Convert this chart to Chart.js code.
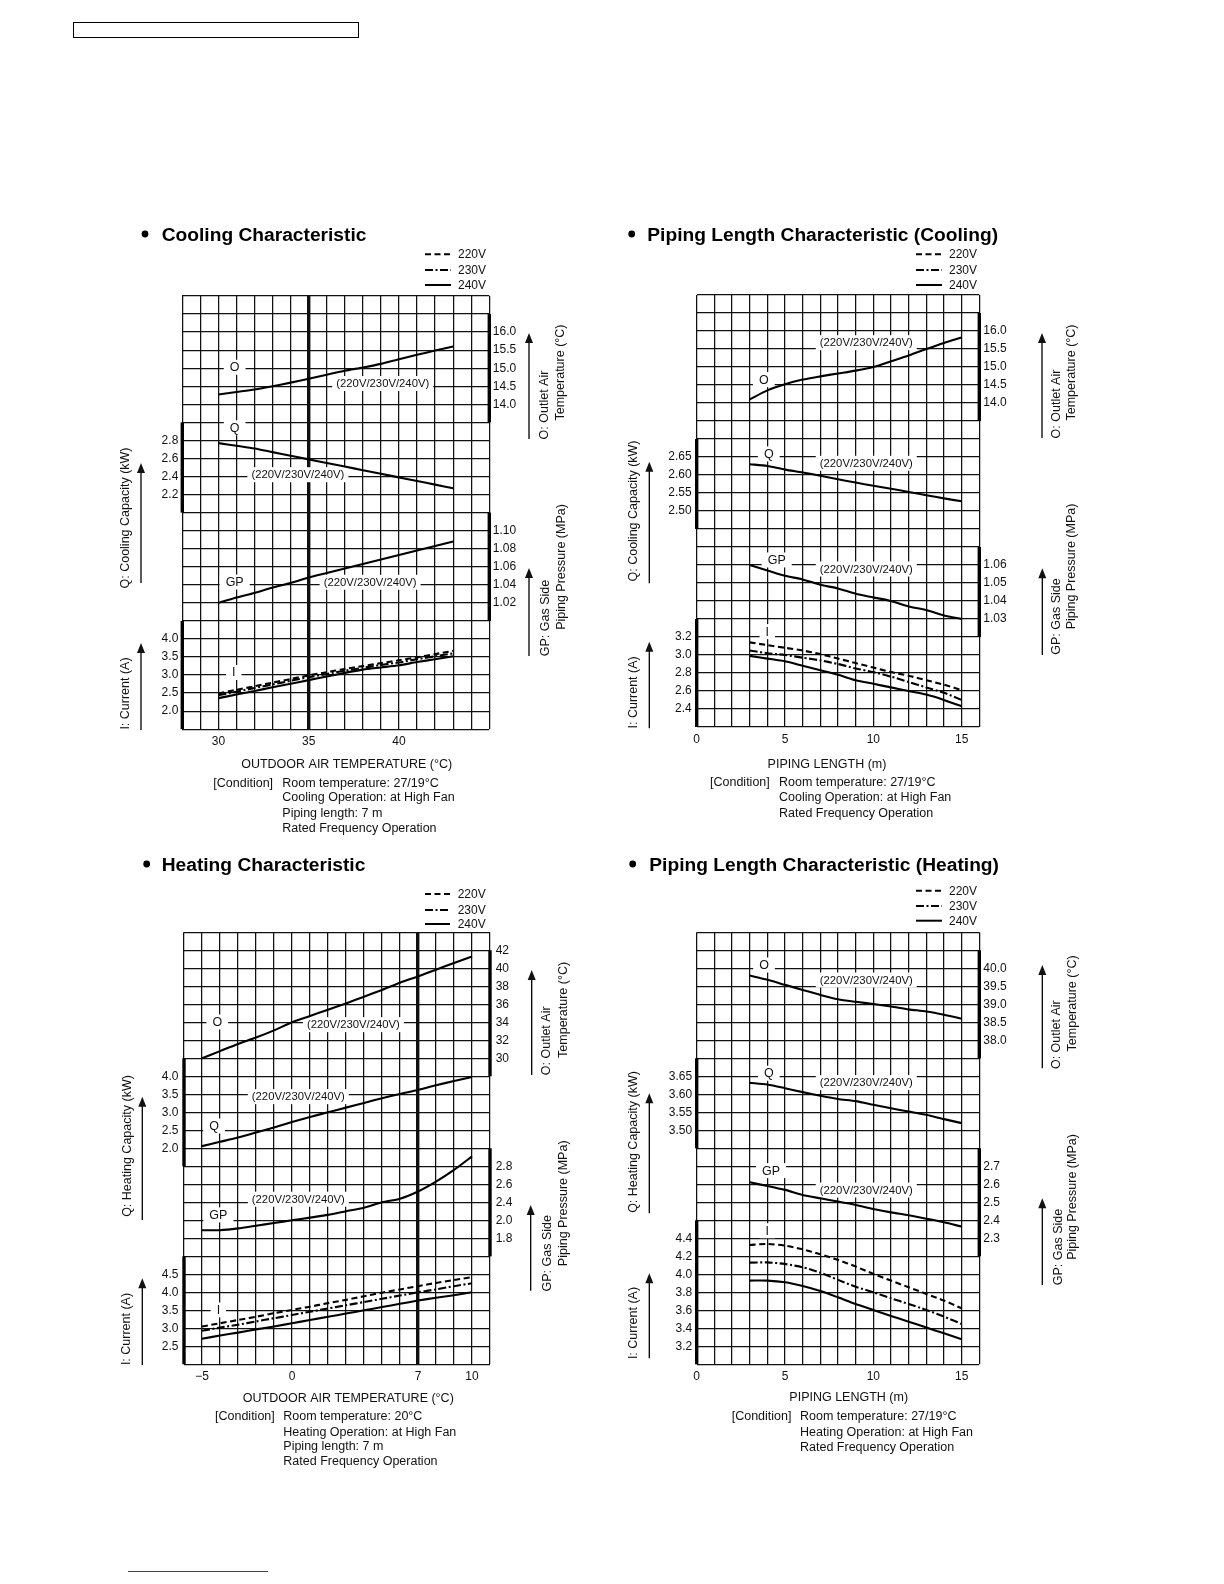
<!DOCTYPE html>
<html><head><meta charset="utf-8">
<script src="https://cdn.jsdelivr.net/npm/chart.js@4.4.1/dist/chart.umd.min.js"></script>
<style>
html,body{margin:0;padding:0;background:#fff;}
body{width:1224px;height:1584px;position:relative;overflow:hidden;}
canvas{position:absolute;}
.hdr{position:absolute;left:73px;top:22px;width:284px;height:14px;border:1.5px solid #000;}
.foot{position:absolute;left:128px;top:1571px;width:140px;height:0;border-top:1px solid #444;}
</style></head><body>
<div class="hdr"></div><div class="foot"></div>
<canvas id="c1" width="500" height="640" style="left:100px;top:200px"></canvas>
<canvas id="c2" width="500" height="640" style="left:600px;top:200px"></canvas>
<canvas id="c3" width="500" height="640" style="left:100px;top:840px"></canvas>
<canvas id="c4" width="500" height="640" style="left:600px;top:840px"></canvas>
<script>
// ================= DATA =================
// Cooling Characteristic (x: outdoor air temperature, °C)
const coolTemp = [30,31,32,33,34,35,36,37,38,39,40,41,42,43];
const coolO   = [14.27,14.34,14.41,14.5,14.6,14.71,14.82,14.93,15.02,15.12,15.25,15.37,15.49,15.6];
const coolQ   = [2.77,2.74,2.71,2.67,2.63,2.59,2.55,2.51,2.47,2.43,2.39,2.35,2.31,2.27];
const coolGP  = [1.020,1.026,1.031,1.037,1.042,1.048,1.053,1.058,1.063,1.068,1.073,1.078,1.083,1.088];
const coolI220 = [2.49,2.59,2.69,2.79,2.89,2.99,3.08,3.17,3.25,3.33,3.41,3.49,3.58,3.67];
const coolI230 = [2.44,2.54,2.64,2.74,2.84,2.94,3.03,3.12,3.20,3.28,3.35,3.44,3.52,3.60];
const coolI240 = [2.36,2.46,2.56,2.66,2.76,2.86,2.96,3.06,3.15,3.21,3.27,3.36,3.44,3.52];
const coolXTicks  = [30,35,40];
const coolOTicks  = ['16.0','15.5','15.0','14.5','14.0'];
const coolQTicks  = ['2.8','2.6','2.4','2.2'];
const coolGPTicks = ['1.10','1.08','1.06','1.04','1.02'];
const coolITicks  = ['4.0','3.5','3.0','2.5','2.0'];

// Piping Length Characteristic (Cooling) (x: piping length, m)
const pipeLenC = [3,4,5,6,7,8,9,10,11,12,13,14,15];
const pcO   = [14.1,14.35,14.52,14.65,14.74,14.82,14.9,15.0,15.16,15.32,15.5,15.67,15.82];
const pcQ   = [2.63,2.625,2.615,2.607,2.598,2.588,2.579,2.57,2.562,2.553,2.544,2.535,2.527];
const pcGP  = [1.060,1.057,1.054,1.052,1.049,1.047,1.044,1.042,1.040,1.037,1.035,1.032,1.030];
const pcI220 = [3.14,3.11,3.08,3.05,3.01,2.96,2.91,2.86,2.81,2.77,2.72,2.67,2.61];
const pcI230 = [3.05,3.02,3.0,2.97,2.94,2.9,2.85,2.81,2.76,2.7,2.64,2.58,2.5];
const pcI240 = [2.99,2.96,2.93,2.88,2.83,2.78,2.72,2.68,2.64,2.6,2.56,2.5,2.43];
const pcXTicks  = [0,5,10,15];
const pcOTicks  = ['16.0','15.5','15.0','14.5','14.0'];
const pcQTicks  = ['2.65','2.60','2.55','2.50'];
const pcGPTicks = ['1.06','1.05','1.04','1.03'];
const pcITicks  = ['3.2','3.0','2.8','2.6','2.4'];

// Heating Characteristic (x: outdoor air temperature, °C)
const heatTemp = [-5,-4,-3,-2,-1,0,1,2,3,4,5,6,7,8,9,10];
const hO   = [30.0,30.8,31.6,32.3,33.1,34.0,34.7,35.4,36.1,36.85,37.6,38.4,39.1,39.85,40.6,41.3];
const hQ   = [2.06,2.18,2.3,2.44,2.58,2.73,2.87,3.0,3.13,3.26,3.39,3.51,3.62,3.75,3.87,3.98];
const hGP  = [2.09,2.09,2.11,2.14,2.17,2.2,2.23,2.26,2.3,2.34,2.4,2.44,2.52,2.63,2.76,2.91];
const hI220 = [3.05,3.14,3.23,3.32,3.42,3.51,3.6,3.7,3.79,3.89,3.99,4.08,4.17,4.26,4.34,4.42];
const hI230 = [2.93,3.02,3.1,3.19,3.28,3.37,3.46,3.55,3.64,3.73,3.82,3.91,4.0,4.08,4.17,4.25];
const hI240 = [2.71,2.8,2.88,2.97,3.05,3.14,3.23,3.32,3.41,3.5,3.59,3.68,3.77,3.85,3.92,4.0];
const hXTicks  = [-5,0,7,10];
const hOTicks  = ['42','40','38','36','34','32','30'];
const hQTicks  = ['4.0','3.5','3.0','2.5','2.0'];
const hGPTickPos  = [2.8,2.6,2.4,2.2,2.0];          // printed labels below (as in original)
const hGPTickText = ['2.8','2.6','2.4','2.0','1.8'];
const hITicks  = ['4.5','4.0','3.5','3.0','2.5'];

// Piping Length Characteristic (Heating)
const pipeLenH = [3,4,5,6,7,8,9,10,11,12,13,14,15];
const phO   = [39.8,39.68,39.54,39.4,39.26,39.14,39.07,39.01,38.94,38.86,38.8,38.71,38.6];
const phQ   = [3.632,3.627,3.617,3.606,3.596,3.587,3.581,3.571,3.561,3.552,3.543,3.531,3.52];
const phGP  = [2.611,2.591,2.569,2.541,2.522,2.504,2.485,2.463,2.444,2.428,2.409,2.389,2.365];
const phI220 = [4.326,4.337,4.318,4.278,4.222,4.16,4.086,4.004,3.93,3.856,3.782,3.708,3.622];
const phI230 = [4.13,4.132,4.114,4.078,4.018,3.938,3.862,3.8,3.734,3.67,3.604,3.53,3.448];
const phI240 = [3.93,3.93,3.912,3.87,3.814,3.744,3.67,3.604,3.538,3.474,3.408,3.344,3.278];
const phXTicks  = [0,5,10,15];
const phOTicks  = ['40.0','39.5','39.0','38.5','38.0'];
const phQTicks  = ['3.65','3.60','3.55','3.50'];
const phGPTicks = ['2.7','2.6','2.5','2.4','2.3'];
const phITicks  = ['4.4','4.2','4.0','3.8','3.6','3.4','3.2'];

const voltLabels = ['220V','230V','240V'];

// ================= RENDERING =================
const FONT = '"Liberation Sans", Arial, Helvetica, sans-serif';
Chart.defaults.font.family = FONT;
Chart.defaults.color = '#111';
const DASHES = [[6,3.5],[8,2.5,2,2.5],[]];
const ROWS = 24, SIDE = 40, HX = 26;
const zeroFit = s => { if (s.isHorizontal()) s.height = 0; else s.width = 0; };
const fmtNum = v => v < 0 ? '\u2212' + Math.abs(v) : String(v);

function axisDef(side, top, step, pos, text) {
  return { side, top, step, pos: pos || text.map(Number), text };
}

function makeDecor(cfg) {
  return {
    id: 'decor_' + cfg.id,
    beforeDatasetsDraw(chart) {
      const ctx = chart.ctx, xs = chart.scales.x, rs = chart.scales.row, A = chart.chartArea;
      ctx.save();
      ctx.strokeStyle = '#000'; ctx.lineWidth = 3.4; ctx.lineCap = 'butt';
      for (const b of cfg.bars) {
        const x = b[0] === 'L' ? A.left : A.right;
        ctx.beginPath(); ctx.moveTo(x, rs.getPixelForValue(b[1])); ctx.lineTo(x, rs.getPixelForValue(b[2])); ctx.stroke();
      }
      for (const a of cfg.notes) {
        const small = a[0].length > 3;
        ctx.font = (small ? '11.3px ' : '12.5px ') + FONT;
        const w = ctx.measureText(a[0]).width;
        const px = xs.getPixelForValue(a[1]), py = rs.getPixelForValue(a[2]);
        const bw = w + (small ? 8 : 12), bh = 15;
        ctx.fillStyle = '#fff'; ctx.fillRect(px - bw / 2, py - bh / 2, bw, bh);
        ctx.fillStyle = '#111'; ctx.textAlign = 'center'; ctx.textBaseline = 'middle';
        ctx.fillText(a[0], px, py + 0.5);
      }
      ctx.restore();
    },
    afterDraw(chart) {
      const ctx = chart.ctx, d = cfg.deco;
      ctx.save();
      ctx.translate(-cfg.canvas[0], -cfg.canvas[1]);
      ctx.fillStyle = '#000'; ctx.strokeStyle = '#000';
      // title
      ctx.beginPath(); ctx.arc(d.title[0], d.title[2], 3.4, 0, Math.PI * 2); ctx.fill();
      ctx.font = 'bold 19.2px ' + FONT; ctx.textAlign = 'left'; ctx.textBaseline = 'alphabetic';
      ctx.fillText(d.titleText, d.title[1], d.title[2] + 7);
      // legend
      const ds = chart.data.datasets.filter(s => s.isCurrent);
      ctx.font = '12px ' + FONT; ctx.textBaseline = 'middle';
      d.legendY.forEach((y, i) => {
        ctx.save(); ctx.lineWidth = 2; ctx.setLineDash(ds[i].borderDash);
        ctx.beginPath(); ctx.moveTo(d.legendX[0], y); ctx.lineTo(d.legendX[1], y); ctx.stroke(); ctx.restore();
        ctx.fillStyle = '#111'; ctx.fillText(ds[i].label, d.legendX[2], y + 0.5);
      });
      // arrows
      ctx.lineWidth = 1.3;
      for (const a of d.arrows) {
        const [x, yb, yt] = a;
        ctx.beginPath(); ctx.moveTo(x, yb); ctx.lineTo(x, yt + 6); ctx.stroke();
        ctx.beginPath(); ctx.moveTo(x, yt); ctx.lineTo(x - 4, yt + 10); ctx.lineTo(x + 4, yt + 10); ctx.closePath(); ctx.fill();
      }
      // rotated axis titles
      ctx.font = '12.5px ' + FONT; ctx.fillStyle = '#111';
      for (const t of d.vtitles) {
        ctx.save(); ctx.translate(t[1], t[2]); ctx.rotate(-Math.PI / 2);
        ctx.textAlign = 'center'; ctx.textBaseline = 'middle'; ctx.fillText(t[0], 0, 0); ctx.restore();
      }
      // x axis title
      ctx.textAlign = 'center'; ctx.textBaseline = 'middle';
      ctx.fillText(d.xTitle[0], d.xTitle[1], d.xTitle[2]);
      // condition
      ctx.textAlign = 'left';
      ctx.fillText('[Condition]', d.cond[0], d.cond[2][0]);
      d.condLines.forEach((s, i) => ctx.fillText(s, d.cond[1], d.cond[2][i]));
      ctx.restore();
    }
  };
}

function makeChart(cfg) {
  const canvas = document.getElementById(cfg.id);
  const W = canvas.width, H = canvas.height, [ox, oy] = cfg.canvas, A = cfg.area;
  // tick labels of every data axis, placed on the grid rows of that axis
  const sideTicks = { left: [], right: [] };
  for (const ax of Object.values(cfg.axes)) {
    ax.pos.forEach((v, i) => sideTicks[ax.side].push({ row: (ax.top - v) / ax.step, text: ax.text[i] }));
  }
  const labelAxis = (side, pad) => ({
    type: 'linear', position: side, min: 0, max: ROWS, reverse: true,
    afterFit: s => { s.width = SIDE; },
    afterBuildTicks: s => { s.ticks = sideTicks[side].map(t => ({ value: t.row })); },
    ticks: { autoSkip: false, padding: pad, font: { size: 12 }, color: '#111', callback: (v, i) => sideTicks[side][i].text },
    grid: { display: false, drawTicks: false }, border: { display: false }
  });
  const scales = {
    x: { type: 'linear', position: 'bottom', min: cfg.xMin, max: cfg.xMax,
         afterFit: s => { s.height = HX; },
         afterBuildTicks: s => { s.ticks = cfg.xTicks.map(v => ({ value: v })); },
         ticks: { autoSkip: false, maxRotation: 0, minRotation: 0, padding: 5, font: { size: 12 }, color: '#111', callback: v => fmtNum(v) },
         grid: { display: false, drawTicks: false }, border: { display: false } },
    xg: { type: 'linear', position: 'bottom', min: cfg.xMin, max: cfg.xMax, afterFit: zeroFit,
          ticks: { display: false, stepSize: 1 },
          grid: { color: '#111', drawTicks: false,
                  lineWidth: c => (c.tick && cfg.marker !== null && c.tick.value === cfg.marker) ? 3.4 : 1.25 },
          border: { display: false } },
    row: { type: 'linear', position: 'left', min: 0, max: ROWS, reverse: true, afterFit: zeroFit,
           ticks: { display: false, stepSize: 1 },
           grid: { color: '#111', lineWidth: 1.25, drawTicks: false }, border: { display: false } },
    tl: labelAxis('left', cfg.padL),
    tr: labelAxis('right', cfg.padR)
  };
  for (const [id, ax] of Object.entries(cfg.axes)) {
    scales[id] = { type: 'linear', display: false, position: ax.side, max: ax.top, min: ax.top - ROWS * ax.step };
  }
  const mk = (label, xs, ys, axis, dash, isCurrent) => ({
    label, isCurrent, data: xs.map((x, i) => ({ x, y: ys[i] })), xAxisID: 'x', yAxisID: axis,
    borderColor: '#000', borderWidth: 2.1, borderDash: dash, pointRadius: 0, tension: 0.25, fill: false
  });
  const datasets = [
    mk('O', cfg.xs, cfg.O, 'yO', [], false),
    mk('Q', cfg.xs, cfg.Q, 'yQ', [], false),
    mk('GP', cfg.xs, cfg.GP, 'yG', [], false),
    ...cfg.I.map((arr, i) => mk(voltLabels[i], cfg.xs, arr, 'yI', DASHES[i], true))
  ];
  return new Chart(canvas, {
    type: 'line',
    data: { datasets },
    options: {
      responsive: false, animation: false, devicePixelRatio: 1,
      layout: { padding: { left: A[0] - ox - SIDE, top: A[1] - oy, right: ox + W - A[2] - SIDE, bottom: oy + H - A[3] - HX } },
      plugins: { legend: { display: false }, tooltip: { enabled: false } },
      scales
    },
    plugins: [makeDecor(cfg)]
  });
}

// ---- Panel 1: Cooling Characteristic ----
makeChart({
  id: 'c1', canvas: [100, 200], area: [182.3, 296, 489.3, 729.2], padL: 4, padR: 3.5,
  xMin: 28, xMax: 45, xTicks: coolXTicks, marker: 35,
  xs: coolTemp, O: coolO, Q: coolQ, GP: coolGP, I: [coolI220, coolI230, coolI240],
  axes: {
    yO: axisDef('right', 17, 0.5, null, coolOTicks),
    yQ: axisDef('left', 4.4, 0.2, null, coolQTicks),
    yG: axisDef('right', 1.36, 0.02, null, coolGPTicks),
    yI: axisDef('left', 13.5, 0.5, null, coolITicks)
  },
  bars: [['R', 1, 7], ['L', 7, 12], ['R', 12, 18], ['L', 18, 24]],
  notes: [['O', 30.9, 3.95], ['(220V/230V/240V)', 39.1, 4.85], ['Q', 30.9, 7.3], ['(220V/230V/240V)', 34.4, 9.9],
          ['GP', 30.9, 15.85], ['(220V/230V/240V)', 38.4, 15.86], ['I', 30.85, 20.86]],
  deco: {
    title: [145, 161.7, 234], titleText: 'Cooling Characteristic',
    legendX: [425, 451, 458], legendY: [254.3, 270, 285],
    arrows: [[529, 439, 333], [529, 656, 568], [141, 583, 463], [141, 730, 643]],
    vtitles: [['O: Outlet Air', 545, 405], ['Temperature (\u00B0C)', 561, 372.5],
              ['GP: Gas Side', 546, 618], ['Piping Pressure (MPa)', 562, 567],
              ['Q: Cooling Capacity (kW)', 126, 518], ['I: Current (A)', 126, 693.5]],
    xTitle: ['OUTDOOR AIR TEMPERATURE (\u00B0C)', 346.7, 765],
    cond: [213.3, 282.3, [783.3, 797.7, 813.3, 828.3]],
    condLines: ['Room temperature: 27/19\u00B0C', 'Cooling Operation: at High Fan', 'Piping length: 7 m', 'Rated Frequency Operation']
  }
});

// ---- Panel 2: Piping Length Characteristic (Cooling) ----
makeChart({
  id: 'c2', canvas: [600, 200], area: [696.7, 295, 979.3, 727], padL: 5, padR: 4,
  xMin: 0, xMax: 16, xTicks: pcXTicks, marker: null,
  xs: pipeLenC, O: pcO, Q: pcQ, GP: pcGP, I: [pcI220, pcI230, pcI240],
  axes: {
    yO: axisDef('right', 17, 0.5, null, pcOTicks),
    yQ: axisDef('left', 3.1, 0.05, null, pcQTicks),
    yG: axisDef('right', 1.21, 0.01, null, pcGPTicks),
    yI: axisDef('left', 7.0, 0.2, null, pcITicks)
  },
  bars: [['R', 1, 7], ['L', 8, 13], ['R', 14, 19], ['L', 18, 24]],
  notes: [['O', 3.8, 4.7], ['(220V/230V/240V)', 9.6, 2.65], ['Q', 4.08, 8.83], ['(220V/230V/240V)', 9.6, 9.35],
          ['GP', 4.53, 14.72], ['(220V/230V/240V)', 9.6, 15.22], ['I', 4.0, 18.7]],
  deco: {
    title: [631.7, 647.3, 234], titleText: 'Piping Length Characteristic (Cooling)',
    legendX: [916, 942, 949], legendY: [254.3, 270, 285],
    arrows: [[1042, 438, 333], [1042.3, 655, 568.3], [649.3, 583.3, 461.7], [649.3, 728.3, 641.7]],
    vtitles: [['O: Outlet Air', 1056.7, 404], ['Temperature (\u00B0C)', 1071.7, 372.5],
              ['GP: Gas Side', 1056.7, 616.5], ['Piping Pressure (MPa)', 1071.7, 566.5],
              ['Q: Cooling Capacity (kW)', 633.3, 511], ['I: Current (A)', 634, 692.4]],
    xTitle: ['PIPING LENGTH (m)', 827, 764.3],
    cond: [710, 779, [782.7, 797.7, 813.3]],
    condLines: ['Room temperature: 27/19\u00B0C', 'Cooling Operation: at High Fan', 'Rated Frequency Operation']
  }
});

// ---- Panel 3: Heating Characteristic ----
makeChart({
  id: 'c3', canvas: [100, 840], area: [184, 932.3, 490, 1364.3], padL: 5.5, padR: 5.7,
  xMin: -6, xMax: 11, xTicks: hXTicks, marker: 7,
  xs: heatTemp, O: hO, Q: hQ, GP: hGP, I: [hI220, hI230, hI240],
  axes: {
    yO: axisDef('right', 44, 2, null, hOTicks),
    yQ: axisDef('left', 8, 0.5, null, hQTicks),
    yG: axisDef('right', 5.4, 0.2, hGPTickPos, hGPTickText),
    yI: axisDef('left', 14, 0.5, null, hITicks)
  },
  bars: [['R', 1, 8], ['L', 7, 13], ['R', 12, 18], ['L', 18, 24]],
  notes: [['O', -4.15, 4.98], ['(220V/230V/240V)', 3.41, 5.13], ['(220V/230V/240V)', 0.35, 9.13], ['Q', -4.33, 10.76],
          ['(220V/230V/240V)', 0.35, 14.83], ['GP', -4.09, 15.7], ['I', -4.09, 20.98]],
  deco: {
    title: [146.7, 161.7, 864], titleText: 'Heating Characteristic',
    legendX: [425, 450, 457.7], legendY: [894, 910, 924],
    arrows: [[531.7, 1075, 970], [530.7, 1290.7, 1205], [142.3, 1220, 1096.7], [142.3, 1365, 1278.3]],
    vtitles: [['O: Outlet Air', 546.7, 1040.8], ['Temperature (\u00B0C)', 563.3, 1009.9],
              ['GP: Gas Side', 547.3, 1253.3], ['Piping Pressure (MPa)', 563.3, 1203.3],
              ['Q: Heating Capacity (kW)', 127.3, 1146], ['I: Current (A)', 126.7, 1329]],
    xTitle: ['OUTDOOR AIR TEMPERATURE (\u00B0C)', 348.3, 1398.3],
    cond: [215, 283.3, [1416.7, 1432.3, 1446.7, 1461.7]],
    condLines: ['Room temperature: 20\u00B0C', 'Heating Operation: at High Fan', 'Piping length: 7 m', 'Rated Frequency Operation']
  }
});

// ---- Panel 4: Piping Length Characteristic (Heating) ----
makeChart({
  id: 'c4', canvas: [600, 840], area: [696.7, 932.3, 979.3, 1364.3], padL: 4.5, padR: 4,
  xMin: 0, xMax: 16, xTicks: phXTicks, marker: null,
  xs: pipeLenH, O: phO, Q: phQ, GP: phGP, I: [phI220, phI230, phI240],
  axes: {
    yO: axisDef('right', 41, 0.5, null, phOTicks),
    yQ: axisDef('left', 4.05, 0.05, null, phQTicks),
    yG: axisDef('right', 4.0, 0.1, null, phGPTicks),
    yI: axisDef('left', 7.8, 0.2, null, phITicks)
  },
  bars: [['R', 1, 7], ['L', 7, 12], ['R', 12, 18], ['L', 16, 24]],
  notes: [['O', 3.81, 1.82], ['(220V/230V/240V)', 9.6, 2.65], ['Q', 4.08, 7.83], ['(220V/230V/240V)', 9.6, 8.35],
          ['GP', 4.21, 13.24], ['(220V/230V/240V)', 9.6, 14.32], ['I', 4.0, 16.58]],
  deco: {
    title: [632.7, 649.3, 864], titleText: 'Piping Length Characteristic (Heating)',
    legendX: [916, 942, 949], legendY: [890.7, 906, 920.7],
    arrows: [[1042.3, 1068.3, 965], [1042.3, 1285, 1198.3], [649.3, 1213.3, 1093.3], [649.3, 1358.3, 1273.3]],
    vtitles: [['O: Outlet Air', 1056.7, 1034.7], ['Temperature (\u00B0C)', 1072.7, 1003.4],
              ['GP: Gas Side', 1058.3, 1247], ['Piping Pressure (MPa)', 1072.7, 1197],
              ['Q: Heating Capacity (kW)', 634, 1142], ['I: Current (A)', 634, 1323]],
    xTitle: ['PIPING LENGTH (m)', 848.7, 1397.7],
    cond: [731.7, 800, [1416.7, 1432.3, 1447.3]],
    condLines: ['Room temperature: 27/19\u00B0C', 'Heating Operation: at High Fan', 'Rated Frequency Operation']
  }
});
</script>
</body></html>
